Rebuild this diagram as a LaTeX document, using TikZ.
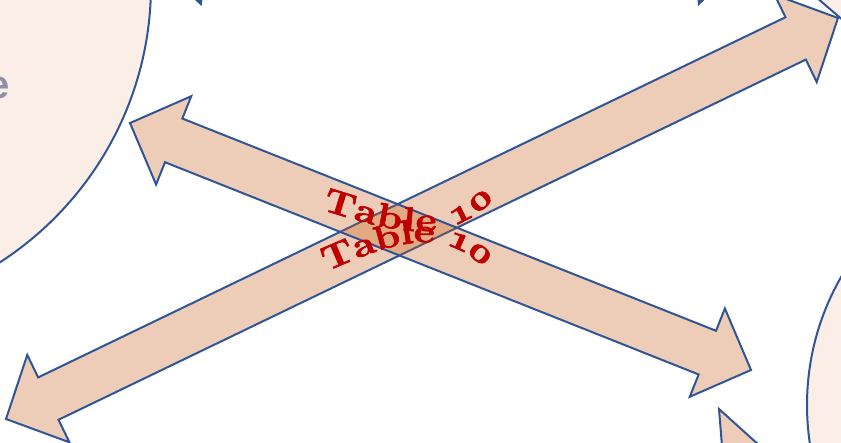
\documentclass[tikz,border=0pt]{standalone}
\usepackage{fontspec}
\usetikzlibrary{decorations.text}
\newfontfamily\wafont[FakeStretch=1.2, Numbers=OldStyle, BoldFeatures={FakeBold=2}]{Latin Modern Roman}
\newfontfamily\grsans{Liberation Sans}
\definecolor{bordblue}{HTML}{2F5597}
\definecolor{peach}{HTML}{C55A11}
\definecolor{circfill}{HTML}{FBEEE6}
\definecolor{txtred}{HTML}{C00000}
\definecolor{greytxt}{HTML}{8F90A6}
\tikzset{
  arrowshape/.style={draw=bordblue, line width=2pt, line join=miter, fill=peach, fill opacity=0.3, draw opacity=1},
  circshape/.style={draw=bordblue, line width=2pt, fill=circfill},
  tiptri/.style={fill=bordblue},
  tagtext/.style={decorate, decoration={text along path, text align={fit to path}, raise=-8pt, text color=txtred,
     text={|\wafont\bfseries\fontsize{34}{34}\selectfont|Table 10}}}
}
\begin{document}
\begin{tikzpicture}[x=1pt, y=-1pt]
\useasboundingbox (0,0) rectangle (841,442);
\clip (0,0) rectangle (841,442);
% circles
\path[circshape] (-179,-15) circle [radius=330];
\path[circshape] (1064,405) circle [radius=257];
\path[fill=circfill] (816,-3) -- (845,22) -- (845,-3) -- cycle;
\draw[bordblue, line width=2pt] (816,-3) -- (845,22);
\node[font=\grsans\bfseries\fontsize{40}{40}\selectfont, text=greytxt, inner sep=0, anchor=base east] (etxt) at (10,98) {e};
% small tips at the edges
\fill[tiptri] (194,-1) -- (202.5,-1) -- (201.5,6) -- cycle;
\fill[tiptri] (697.5,-1) -- (705.5,-1) -- (698,6) -- cycle;
\path[arrowshape] (760,446) -- (719,409) -- (722,446);
% arrow A (lower-left to upper-right)
\coordinate (a1) at (6,419);
\coordinate (a2) at (27.28,354.9);
\coordinate (a3) at (38.14,377.42);
\coordinate (a4) at (785.46,17.24);
\coordinate (a5) at (774.6,-5.28);
\coordinate (a6) at (838,18);
\coordinate (a7) at (816.72,82.1);
\coordinate (a8) at (805.86,59.58);
\coordinate (a9) at (58.54,419.76);
\coordinate (a10) at (69.4,442.28);
\path[arrowshape] (a1) -- (a2) -- (a3) -- (a4) -- (a5) -- (a6) -- (a7) -- (a8) -- (a9) -- (a10) -- cycle;
% arrow B (upper-left to lower-right)
\coordinate (b1) at (130,123);
\coordinate (b2) at (191.23,96.23);
\coordinate (b3) at (182.36,118.53);
\coordinate (b4) at (716.02,330.79);
\coordinate (b5) at (724.89,308.49);
\coordinate (b6) at (751,370);
\coordinate (b7) at (689.78,396.77);
\coordinate (b8) at (698.65,374.47);
\coordinate (b9) at (164.99,162.21);
\coordinate (b10) at (156.12,184.51);
\path[arrowshape] (b1) -- (b2) -- (b3) -- (b4) -- (b5) -- (b6) -- (b7) -- (b8) -- (b9) -- (b10) -- cycle;
% curved labels
\path[tagtext] (324,202) .. controls (400,226) and (445,238) .. (490,192);
\path[tagtext] (324,264) .. controls (400,230) and (445,220) .. (490,262);
\end{tikzpicture}
\end{document}
